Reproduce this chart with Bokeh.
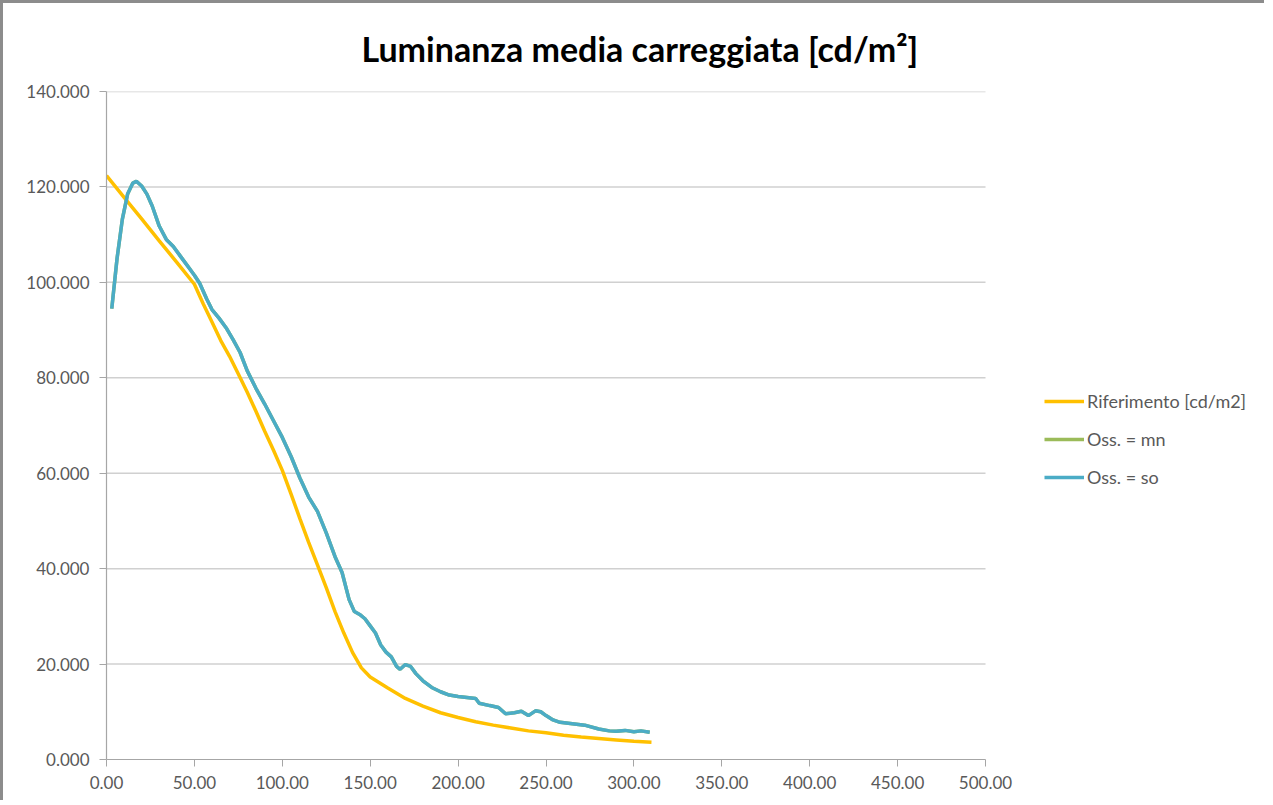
from bokeh.plotting import figure
from bokeh.models import Legend, LegendItem, Title, NumeralTickFormatter, FixedTicker, Range1d
from bokeh.embed import file_html
from bokeh.resources import INLINE

# ---- data ----
x_ref = [0, 10, 20, 30, 40, 50, 55, 60, 65, 70, 75, 80, 85, 90, 95, 100, 105, 110, 115, 120,
         125, 130, 135, 140, 145, 150, 160, 170, 180, 190, 200, 210, 220, 230, 240, 250, 260,
         270, 280, 290, 300, 310]
y_ref = [122.4, 117.8, 113.3, 108.7, 104.2, 99.6, 95.5, 91.7, 87.8, 84.5, 80.8, 77.0, 73.0,
         68.8, 64.8, 60.6, 55.6, 50.5, 45.5, 40.8, 36.0, 31.0, 26.5, 22.4, 19.2, 17.3, 15.0,
         12.8, 11.2, 9.8, 8.8, 7.9, 7.2, 6.6, 6.0, 5.6, 5.1, 4.7, 4.4, 4.1, 3.8, 3.6]

x_obs = [3, 6, 9, 12, 15, 17, 20, 23, 26, 30, 34, 38, 42, 47, 50, 53, 57, 60, 64, 68, 72, 76,
         80, 85, 90, 95, 100, 105, 110, 115, 120, 125, 130, 134, 138, 141, 144, 147, 150, 153,
         156, 159, 162, 165, 167, 170, 173, 176, 180, 185, 190, 195, 200, 205, 210, 212, 218,
         223, 227, 232, 236, 240, 244, 247, 250, 254, 258, 265, 272, 280, 286, 290, 295, 300,
         304, 309]
y_so = [94.5, 105.0, 113.2, 118.5, 120.8, 121.2, 120.2, 118.5, 116.0, 111.8, 109.0, 107.5,
        105.5, 103.0, 101.5, 99.8, 96.5, 94.3, 92.5, 90.5, 88.0, 85.3, 81.5, 77.8, 74.5, 71.0,
        67.5, 63.5, 59.0, 55.0, 52.0, 47.5, 42.5, 39.2, 33.5, 31.0, 30.4, 29.5, 28.0, 26.5,
        24.0, 22.5, 21.5, 19.5, 18.9, 19.9, 19.5, 18.0, 16.5, 15.1, 14.2, 13.5, 13.2, 13.0,
        12.8, 11.8, 11.3, 10.9, 9.6, 9.8, 10.1, 9.2, 10.2, 10.0, 9.2, 8.3, 7.8, 7.5, 7.2, 6.4,
        6.0, 5.9, 6.1, 5.8, 6.0, 5.7]
# "Oss. = mn" is not visible in the picture: it lies under "Oss. = so"
y_mn = list(y_so)

x_ticks = [0, 50, 100, 150, 200, 250, 300, 350, 400, 450, 500]
y_ticks = [0, 20, 40, 60, 80, 100, 120, 140]

title_text = "Luminanza media carreggiata [cd/m\u00b2]"
names = ["Riferimento [cd/m2]", "Oss. = mn", "Oss. = so"]
colors = ["#FFC000", "#9BBB59", "#4BACC6"]

FONT = "Lato"
TXT = "#595959"

# plot area of the axes (0..500) is 879 px wide; the frame is widened to the right so the
# legend (which sits right of the axes) lies inside the drawable frame
AXIS_W = 879
FRAME_W = 1152
X_MAX = x_ticks[-1] * FRAME_W / AXIS_W

p = figure(frame_width=FRAME_W, frame_height=668, output_backend="svg", toolbar_location=None,
           x_range=Range1d(0, X_MAX), y_range=Range1d(y_ticks[0], y_ticks[-1]),
           min_border_left=103, min_border_right=6, min_border_top=88, min_border_bottom=41,
           title=None)
p.outline_line_color = None
p.background_fill_color = "white"
p.border_fill_color = "white"

# horizontal gridlines limited to the axis extent
p.segment(x0=x_ticks[0], x1=x_ticks[-1], y0=y_ticks[1:], y1=y_ticks[1:],
          line_color="#D0D0D0", line_width=1.5)

r_ref = p.line(x_ref, y_ref, line_color=colors[0], line_width=3.5)
r_mn = p.line(x_obs, y_mn, line_color=colors[1], line_width=3.5)
r_so = p.line(x_obs, y_so, line_color=colors[2], line_width=3.5)

t = Title(text=title_text, text_font=FONT, text_font_size="34px", text_font_style="bold",
          text_color="#000000", align="left", offset=255, standoff=45)
p.add_layout(t, "above")

# axes
p.xaxis.ticker = FixedTicker(ticks=x_ticks)
p.yaxis.ticker = FixedTicker(ticks=y_ticks)
p.xaxis.bounds = (x_ticks[0], x_ticks[-1])
p.xaxis.formatter = NumeralTickFormatter(format="0.00")
p.yaxis.formatter = NumeralTickFormatter(format="0.000")
for ax in (p.xaxis, p.yaxis):
    ax.axis_line_color = "#A6A6A6"
    ax.axis_line_width = 1.2
    ax.major_tick_line_color = "#A6A6A6"
    ax.major_tick_out = 7
    ax.major_tick_in = 0
    ax.minor_tick_line_color = None
    ax.major_label_text_font = FONT
    ax.major_label_text_font_size = "17px"
    ax.major_label_text_color = TXT
p.xaxis.major_label_standoff = 9
p.yaxis.major_label_standoff = 10

p.xgrid.grid_line_color = None
p.ygrid.grid_line_color = None

legend = Legend(items=[LegendItem(label=names[0], renderers=[r_ref]),
                       LegendItem(label=names[1], renderers=[r_mn]),
                       LegendItem(label=names[2], renderers=[r_so])],
                location=(AXIS_W + 59, 271))
legend.padding = 0
legend.margin = 0
legend.spacing = 16
legend.glyph_width = 40
legend.glyph_height = 20
legend.label_height = 20
legend.label_standoff = 3
legend.label_text_font = FONT
legend.label_text_font_size = "18px"
legend.label_text_color = TXT
legend.border_line_color = None
legend.background_fill_alpha = 0
p.add_layout(legend, "center")

p.styles = {"border-top": "3px solid #8C8C8C", "border-left": "3px solid #8C8C8C",
            "box-sizing": "border-box"}

open("out.html", "w").write(file_html(p, INLINE))
